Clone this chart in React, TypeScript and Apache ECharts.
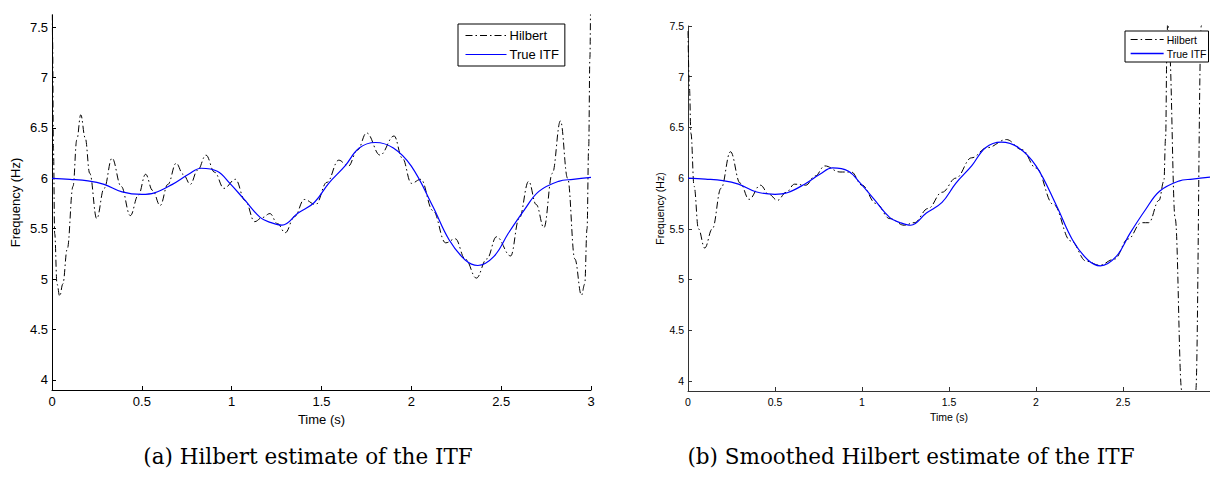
import React, { useEffect, useRef } from "react";
import * as echarts from "echarts";

// ---- tick labels ----
const xTicksA = [0, 0.5, 1, 1.5, 2, 2.5, 3];
const xTicksB = [0, 0.5, 1, 1.5, 2, 2.5];
const yTicks = [4, 4.5, 5, 5.5, 6, 6.5, 7, 7.5];

// ---- True ITF (same in both panels) ----
const itfT = [0, 0.1, 0.2, 0.29, 0.39, 0.5, 0.57, 0.67, 0.76, 0.83, 0.92, 0.99, 1.07, 1.16, 1.22, 1.28, 1.37, 1.46, 1.54, 1.63, 1.71, 1.8, 1.9, 2.0, 2.12, 2.21, 2.3, 2.37, 2.46, 2.54, 2.63, 2.71, 2.82, 2.9, 3.0];
const itfV = [6.0, 5.99, 5.975, 5.94, 5.865, 5.84, 5.855, 5.94, 6.04, 6.1, 6.07, 5.95, 5.79, 5.61, 5.56, 5.535, 5.655, 5.76, 5.95, 6.12, 6.3, 6.355, 6.3, 6.12, 5.72, 5.39, 5.19, 5.135, 5.225, 5.455, 5.69, 5.87, 5.97, 5.99, 6.01];

// ---- (a) Hilbert estimate ----
const hilT = [0, 0.003, 0.008, 0.015, 0.028, 0.043, 0.06, 0.085, 0.117, 0.138, 0.16, 0.185, 0.21, 0.249, 0.29, 0.334, 0.385, 0.436, 0.48, 0.521, 0.56, 0.602, 0.645, 0.691, 0.73, 0.77, 0.81, 0.857, 0.905, 0.957, 1.021, 1.075, 1.128, 1.17, 1.213, 1.255, 1.298, 1.35, 1.404, 1.468, 1.53, 1.596, 1.649, 1.7, 1.751, 1.826, 1.904, 1.95, 2.0, 2.053, 2.12, 2.191, 2.245, 2.3, 2.362, 2.42, 2.474, 2.553, 2.6, 2.653, 2.695, 2.738, 2.785, 2.83, 2.87, 2.91, 2.947, 2.965, 2.978, 2.987, 2.994, 3.0];
const hilV = [8.5, 7.4, 6.3, 5.45, 4.95, 4.83, 4.95, 5.3, 5.92, 6.38, 6.63, 6.4, 6.05, 5.6, 5.9, 6.2, 5.92, 5.63, 5.83, 6.04, 5.88, 5.73, 5.94, 6.15, 6.04, 5.94, 6.08, 6.23, 6.06, 5.9, 5.99, 5.78, 5.57, 5.61, 5.65, 5.55, 5.46, 5.62, 5.79, 5.74, 5.96, 6.18, 6.12, 6.28, 6.45, 6.23, 6.42, 6.2, 5.95, 5.99, 5.68, 5.36, 5.4, 5.2, 5.01, 5.2, 5.42, 5.23, 5.6, 5.97, 5.74, 5.51, 6.05, 6.57, 6.0, 5.2, 4.84, 4.95, 5.5, 6.3, 7.2, 8.5];

// ---- (b) Smoothed Hilbert estimate ----
const smT = [0, 0.008, 0.017, 0.035, 0.06, 0.096, 0.14, 0.19, 0.244, 0.3, 0.351, 0.416, 0.465, 0.514, 0.565, 0.612, 0.677, 0.73, 0.786, 0.873, 0.939, 1.0, 1.08, 1.16, 1.243, 1.3, 1.38, 1.46, 1.54, 1.63, 1.72, 1.83, 1.92, 2.0, 2.1, 2.2, 2.29, 2.365, 2.45, 2.53, 2.605, 2.648, 2.707, 2.735, 2.745, 2.752, 2.757, 2.765, 2.8, 2.838, 2.875, 2.918, 2.95, 2.98];
const smV = [7.45, 6.9, 6.44, 5.92, 5.5, 5.31, 5.5, 5.9, 6.26, 5.95, 5.79, 5.93, 5.84, 5.78, 5.86, 5.94, 5.93, 6.02, 6.12, 6.06, 6.06, 5.93, 5.75, 5.6, 5.535, 5.56, 5.7, 5.86, 6.0, 6.2, 6.3, 6.38, 6.28, 6.1, 5.74, 5.38, 5.18, 5.14, 5.2, 5.4, 5.56, 5.56, 5.78, 5.97, 6.4, 7.2, 7.6, 7.3, 5.6, 3.9, 2.9, 3.9, 7.5, 10.0];

const pairs = (t: number[], v: number[]) => t.map((x, i) => [x, v[i]]);

const SANS = "Liberation Sans, Arial, sans-serif";
const SERIF = "DejaVu Serif, Liberation Serif, serif";
const DASHDOT = [7, 3, 1.5, 3];

function axisPair(grid: number, fs: number, xt: number[], xmax: number, ymax: number, nameGapX: number, nameGapY: number, lineColor: string) {
  const common = {
    gridIndex: grid,
    type: "value" as const,
    axisLine: { show: true, onZero: false, lineStyle: { color: lineColor, width: 1 } },
    axisTick: { show: true, inside: true, length: 4, lineStyle: { color: lineColor } },
    splitLine: { show: false },
    nameTextStyle: { fontFamily: SANS, fontSize: fs, color: "#000" },
  };
  const x = {
    ...common,
    min: 0,
    max: xmax,
    name: "Time (s)",
    nameLocation: "middle",
    nameGap: nameGapX,
    axisTick: { ...common.axisTick, customValues: xt },
    axisLabel: { customValues: xt, fontFamily: SANS, fontSize: fs, color: "#000", margin: 5 },
  };
  const y = {
    ...common,
    min: 3.9,
    max: ymax,
    name: "Frequency (Hz)",
    nameLocation: "middle",
    nameGap: nameGapY,
    axisTick: { ...common.axisTick, customValues: yTicks },
    axisLabel: { customValues: yTicks, fontFamily: SANS, fontSize: fs, color: "#000", margin: 4 },
  };
  return { x, y };
}

const hilStyle = { color: "#000", width: 1, type: DASHDOT };
const itfStyle = { color: "#0000ff", width: 1.2 };

function legendData(w: number) {
  return [
    { name: "Hilbert", itemStyle: { opacity: 0 }, lineStyle: { color: "#000", width: 1, type: DASHDOT } },
    { name: "True ITF", itemStyle: { opacity: 0 }, lineStyle: { color: "#0000ff", width: w, type: "solid" } },
  ];
}

export default function App() {
  const ref = useRef<HTMLDivElement>(null);
  useEffect(() => {
    if (!ref.current) return;
    const chart = echarts.init(ref.current, undefined, { renderer: "svg" });
    const a = axisPair(0, 13, xTicksA, 3, 7.62, 21, 30, "#000");
    const b = axisPair(1, 10.5, xTicksB, 3, 7.5, 14, 23, "#333");
    chart.setOption({
      animation: false,
      backgroundColor: "#fff",
      grid: [
        { left: 52, top: 15, width: 539, height: 375 },
        { left: 688, top: 26, width: 526, height: 365 },
      ],
      xAxis: [a.x, b.x],
      yAxis: [a.y, b.y],
      legend: [
        {
          orient: "vertical",
          left: 458,
          top: 24,
          data: legendData(1),
          itemWidth: 41,
          itemHeight: 14,
          itemGap: 6,
          padding: [5, 6, 5, 7],
          borderColor: "#000",
          borderWidth: 1,
          backgroundColor: "#fff",
          borderRadius: 0,
          selectedMode: false,
          itemStyle: { opacity: 0 },
          textStyle: { fontFamily: SANS, fontSize: 13, color: "#000", padding: [0, 0, 0, -2] },
        },
        {
          orient: "vertical",
          left: 1125,
          top: 31,
          data: legendData(1.3),
          itemWidth: 33,
          itemHeight: 10,
          itemGap: 3,
          padding: [3, 2, 3, 5],
          borderColor: "#000",
          borderWidth: 1,
          backgroundColor: "#fff",
          borderRadius: 0,
          selectedMode: false,
          itemStyle: { opacity: 0 },
          textStyle: { fontFamily: SANS, fontSize: 10.5, color: "#000", padding: [0, 0, 0, -2] },
        },
      ],
      series: [
        {
          name: "Hilbert", type: "line", xAxisIndex: 0, yAxisIndex: 0, data: pairs(hilT, hilV),
          symbol: "none", smooth: 0.4, smoothMonotone: "x", lineStyle: hilStyle, clip: true, z: 2,
        },
        {
          name: "True ITF", type: "line", xAxisIndex: 0, yAxisIndex: 0, data: pairs(itfT, itfV),
          symbol: "none", smooth: 0.4, lineStyle: itfStyle, clip: true, z: 3,
        },
        {
          name: "Hilbert", type: "line", xAxisIndex: 1, yAxisIndex: 1, data: pairs(smT, smV),
          symbol: "none", smooth: 0.4, smoothMonotone: "x", lineStyle: hilStyle, clip: true, z: 2,
        },
        {
          name: "True ITF", type: "line", xAxisIndex: 1, yAxisIndex: 1, data: pairs(itfT, itfV),
          symbol: "none", smooth: 0.4, lineStyle: itfStyle, clip: true, z: 3,
        },
      ],
      graphic: [
        {
          type: "text", x: 308, y: 456,
          style: { text: "(a) Hilbert estimate of the ITF", fontFamily: SERIF, fontSize: 21.5, fill: "#000", align: "center", verticalAlign: "middle" },
        },
        {
          type: "text", x: 911, y: 456,
          style: { text: "(b) Smoothed Hilbert estimate of the ITF", fontFamily: SERIF, fontSize: 21.5, fill: "#000", align: "center", verticalAlign: "middle" },
        },
      ],
    });
    return () => chart.dispose();
  }, []);
  return <div ref={ref} style={{ position: "fixed", left: 0, top: 0, width: 1210, height: 481 }} />;
}
